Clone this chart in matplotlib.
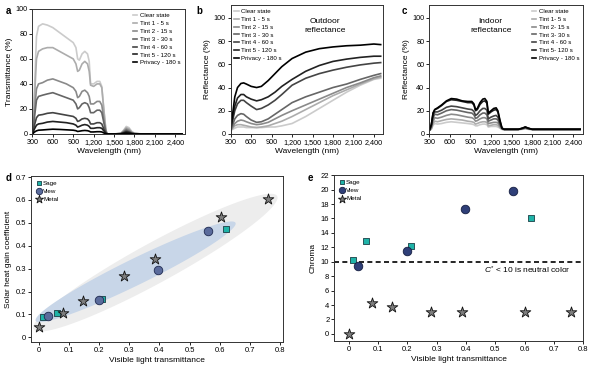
import numpy as np
import matplotlib
matplotlib.use('Agg')
import matplotlib.pyplot as plt

plt.rcParams['font.family'] = ['Liberation Sans', 'DejaVu Sans']
plt.rcParams['font.size'] = 6
plt.rcParams['axes.linewidth'] = 0.7
plt.rcParams['axes.edgecolor'] = '#333333'
plt.rcParams['mathtext.fontset'] = 'custom'
plt.rcParams['mathtext.it'] = 'Liberation Sans:italic'
plt.rcParams['mathtext.rm'] = 'Liberation Sans'

# ---- data ----
labels_ab = ['Clear state', 'Tint 1 - 5 s', 'Tint 2 - 15 s', 'Tint 3 - 30 s',
             'Tint 4 - 60 s', 'Tint 5 - 120 s', 'Privacy - 180 s']
labels_c = ['Clear state', 'Tint 1- 5 s', 'Tint 2- 15 s', 'Tint 3- 30 s',
            'Tint 4 - 60 s', 'Tint 5- 120 s', 'Privacy - 180 s']
grays = ['#cbcbcb', '#acacac', '#8a8a8a', '#666666', '#444444', '#222222', '#000000']

# a - transmittance
wl_a = [300, 330, 360, 390, 450, 520, 600, 700, 800, 900, 940, 965, 990, 1030, 1070, 1110,
        1135, 1155, 1200, 1250, 1290, 1320, 1350, 1380, 1400, 1500, 1600, 1640, 1680, 1720,
        1760, 1800, 1900, 2100, 2300, 2500]
tr_clear = [0, 35, 78, 86, 88, 87, 85, 81, 77, 73, 69, 60, 59, 64, 66, 64, 58, 40, 40, 42, 42, 38,
            20, 3, 0, 0, 0.5, 3, 6, 5, 2, 0.5, 0, 0, 0, 0]
tr_t1 = [0, 28, 60, 66, 68, 69, 69, 66, 63, 60, 56, 50, 51, 56, 58, 56, 50, 39, 38, 40, 40, 37,
         19, 3, 0, 0, 0.5, 2.5, 5, 4, 1.5, 0.5, 0, 0, 0, 0]
tr_t2 = [0, 18, 36, 40, 41, 43, 44, 42, 40, 37, 34, 29, 30, 34, 35, 33, 30, 24, 24, 26, 26, 23,
         12, 2, 0, 0, 0.3, 2, 4, 3, 1, 0.3, 0, 0, 0, 0]
tr_t3 = [0, 13, 27, 30, 31, 32, 33, 31, 29, 27, 24, 20, 21, 24, 25, 24, 21, 17, 17, 19, 19, 17,
         9, 1.5, 0, 0, 0.2, 1.5, 3, 2, 0.8, 0.2, 0, 0, 0, 0]
tr_t4 = [0, 7, 13, 15, 15.5, 16.5, 17, 16, 15, 14, 12.5, 10, 10.5, 12, 12.5, 12, 10.5, 8, 8, 9, 9,
         8, 4, 1, 0, 0, 0.2, 1, 2, 1.5, 0.5, 0.1, 0, 0, 0, 0]
tr_t5 = [0, 4, 7, 8, 8.5, 9.5, 10, 9.5, 9, 8, 7, 5.5, 6, 7, 7.5, 7, 6, 4.5, 4.5, 5, 5, 4.5, 2.5,
         0.5, 0, 0, 0.1, 0.7, 1.5, 1, 0.3, 0, 0, 0, 0, 0]
tr_priv = [0, 1.5, 2.5, 3, 3.2, 3.5, 3.8, 3.6, 3.3, 3, 2.6, 2, 2.2, 2.6, 2.8, 2.6, 2.2, 1.6, 1.6,
           1.8, 1.8, 1.6, 0.8, 0.2, 0, 0, 0, 0.3, 0.6, 0.4, 0.1, 0, 0, 0, 0, 0]

# b - outdoor reflectance
wl_b = [300, 330, 360, 400, 450, 490, 530, 600, 680, 750, 850, 950, 1050, 1200, 1400, 1600,
        1800, 2000, 2200, 2400, 2500]
ro_clear = [3, 4, 5, 6, 6, 6, 5.5, 5.5, 5.5, 5.5, 6, 6, 7, 9, 15, 22, 29, 36, 42, 47, 48]
ro_t1 = [3, 5, 7, 8, 8, 7.5, 7, 6, 5.5, 6, 7, 9, 11, 15, 21, 27, 33, 38, 43, 47.5, 49]
ro_t2 = [3, 6, 9, 11, 12, 11.5, 10.5, 9, 8, 8.5, 10, 13, 16, 20, 25, 30, 35, 40, 44, 48.5, 50]
ro_t3 = [3, 8, 13, 16, 17.5, 17, 15, 12, 10, 10.5, 13, 17, 21, 27, 32, 36, 40, 43, 47, 50.5, 52]
ro_t4 = [4, 12, 20, 26, 29, 29, 27, 24, 21, 22, 25, 29, 34, 42, 48, 52, 55, 57.5, 59.5, 61, 61.5]
ro_t5 = [4, 14, 24, 31, 34, 34, 32, 30, 28.5, 29.5, 32, 36, 41, 47, 54, 59, 62.5, 64.5, 66, 67, 67]
ro_priv = [5, 18, 32, 40, 43.5, 44, 43, 41, 40, 41, 46, 52, 58, 65, 70.5, 73.5, 75, 76, 76.5,
           77.5, 77]

# c - indoor reflectance
wl_c = [300, 330, 355, 380, 420, 480, 550, 620, 700, 780, 860, 920, 950, 975, 1000, 1040, 1080,
        1110, 1140, 1160, 1200, 1240, 1275, 1300, 1330, 1360, 1390, 1450, 1600, 1660, 1700,
        1740, 1800, 2000, 2200, 2500]
ri_priv = [3, 8, 18, 21, 22.5, 25, 28.5, 30.5, 30, 28.5, 28, 28, 26, 21, 22, 27, 30, 30.5, 28, 18,
           20, 22, 22.5, 20, 12, 5, 4, 4, 4, 5, 6, 5, 4, 4, 4, 4]
ri_t5 = [3, 8, 18, 21, 22, 24.5, 28, 29.5, 29, 28, 27, 27, 25, 20, 21, 25.5, 28, 28.5, 26.5, 17,
         19, 20.5, 21, 19, 11, 5, 4, 4, 4, 5, 6, 5, 4, 4, 4, 4]
ri_t4 = [3, 7, 16, 19, 19, 20.5, 23, 24, 23.5, 22.5, 21.5, 21, 19.5, 16, 17, 20, 22, 22, 20.5,
         13, 14.5, 15.5, 16, 14.5, 9, 5, 4, 4, 4, 4.8, 5.5, 4.8, 4, 4, 4, 4]
ri_t3 = [3, 6, 14, 17, 16.5, 18, 20, 21, 20.5, 19.5, 18.5, 18, 16.5, 13.5, 14, 16.5, 18, 18, 16.5,
         11, 12, 13, 13, 12, 8, 4.5, 4, 4, 4, 4.6, 5.2, 4.6, 4, 4, 4, 4]
ri_t2 = [3, 5, 11, 14, 13.5, 14.5, 16, 17, 16.5, 15.5, 14.5, 14, 13, 11, 11.5, 13, 14, 14, 13, 9,
         9.5, 10, 10, 9.5, 6.5, 4.5, 4, 4, 4, 4.5, 5, 4.5, 4, 4, 4, 4]
ri_t1 = [3, 4.5, 9, 11, 10.5, 11.5, 12.5, 13, 12.5, 12, 11, 10.5, 10, 8.5, 9, 10, 10.5, 10.5, 10,
         7, 7.5, 8, 8, 7.5, 5.5, 4, 3.8, 3.8, 3.8, 4.3, 4.8, 4.3, 3.8, 3.8, 3.8, 3.8]
ri_clear = [3, 4, 7.5, 9, 8.5, 9, 10, 10.5, 10, 9.5, 9, 8.5, 8, 7, 7, 8, 8.5, 8.5, 8, 6, 6.5, 6.5,
            6.5, 6, 5, 4, 3.6, 3.6, 3.6, 4, 4.5, 4, 3.6, 3.6, 3.6, 3.6]

# d, e - glazing products
vlt_sage = [0.015, 0.059, 0.211, 0.621]
vlt_view = [0.031, 0.200, 0.396, 0.561]
vlt_metal = [0.0, 0.079, 0.146, 0.282, 0.385, 0.603, 0.759]
shgc_sage = [0.090, 0.106, 0.167, 0.474]
shgc_view = [0.094, 0.164, 0.294, 0.464]
shgc_metal = [0.046, 0.106, 0.159, 0.267, 0.341, 0.526, 0.603]
chroma_sage = [10.2, 12.85, 12.2, 16.0]
chroma_view = [9.35, 11.45, 17.3, 19.85]
chroma_metal = [0.0, 4.3, 3.7, 3.1, 3.1, 3.0, 3.0]

wl_ticks = [300, 600, 900, 1200, 1500, 1800, 2100, 2400]
wl_ticklabels = ['300', '600', '900', '1,200', '1,500', '1,800', '2,100', '2,400']
vlt_ticklabels = ['0', '0.1', '0.2', '0.3', '0.4', '0.5', '0.6', '0.7', '0.8']

fig = plt.figure(figsize=(6, 3.68), dpi=100)


def spectra_axes(rect, ylim, ylabel):
    ax = fig.add_axes(rect)
    ax.set_xlim(300, 2540)
    ax.set_ylim(*ylim)
    ax.set_xticks(wl_ticks)
    ax.set_xticklabels(wl_ticklabels)
    ax.set_yticks([0, 20, 40, 60, 80, 100])
    ax.tick_params(direction='out', length=2, width=0.6, labelsize=5.2, pad=1.5)
    ax.set_xlabel('Wavelength (nm)', fontsize=6, labelpad=1.5)
    ax.set_ylabel(ylabel, fontsize=6, labelpad=2)
    return ax


# a
ax_a = spectra_axes([0.054, 0.636, 0.254, 0.340], (0, 100), 'Transmittance (%)')
for y, c, lab in zip([tr_clear, tr_t1, tr_t2, tr_t3, tr_t4, tr_t5, tr_priv], grays, labels_ab):
    ax_a.plot(wl_a, y, color=c, lw=1.2, label=lab)
ax_a.legend(loc='upper right', fontsize=4.4, frameon=False, handlelength=0.7,
            handletextpad=0.4, labelspacing=0.42, borderaxespad=0.3)

# b
ax_b = spectra_axes([0.3845, 0.636, 0.2545, 0.350], (0, 111), 'Reflectance (%)')
for y, c, lab in zip([ro_clear, ro_t1, ro_t2, ro_t3, ro_t4, ro_t5, ro_priv], grays, labels_ab):
    ax_b.plot(wl_b, y, color=c, lw=1.2, label=lab)
ax_b.legend(loc='upper left', fontsize=4.4, frameon=False, handlelength=0.7,
            handletextpad=0.4, labelspacing=0.42, borderaxespad=0.2)
ax_b.text(0.62, 0.84, 'Outdoor\nreflectance', transform=ax_b.transAxes, ha='center',
          va='center', fontsize=6, linespacing=1.3)

# c
ax_c = spectra_axes([0.7155, 0.636, 0.256, 0.350], (0, 111), 'Reflectance (%)')
for y, c, lab in zip([ri_clear, ri_t1, ri_t2, ri_t3, ri_t4, ri_t5, ri_priv], grays, labels_c):
    ax_c.plot(wl_c, y, color=c, lw=1.2, label=lab)
ax_c.legend(loc='upper right', fontsize=4.4, frameon=False, handlelength=0.7,
            handletextpad=0.4, labelspacing=0.42, borderaxespad=0.2)
ax_c.text(0.40, 0.84, 'Indoor\nreflectance', transform=ax_c.transAxes, ha='center',
          va='center', fontsize=6, linespacing=1.3)

sage_c = '#1fb3a8'
view_c = '#2f3f78'
metal_c = '#7d7d7d'
leg_kw = dict(loc='upper left', fontsize=4.5, frameon=False, handletextpad=0.2,
              labelspacing=0.45, borderaxespad=0.4, borderpad=0.3, markerscale=0.75,
              scatterpoints=1, handlelength=1.0)

# d
ax_d = fig.add_axes([0.052, 0.071, 0.420, 0.451])
ax_d.set_xlim(-0.025, 0.81)
ax_d.set_ylim(-0.02, 0.705)
ax_d.set_xticks(np.arange(0, 0.81, 0.1))
ax_d.set_xticklabels(vlt_ticklabels)
ax_d.set_yticks(np.arange(0, 0.71, 0.1))
ax_d.set_yticklabels(vlt_ticklabels[:8])
ax_d.tick_params(direction='out', length=2, width=0.6, labelsize=5.5, pad=1.5)
ax_d.set_xlabel('Visible light transmittance', fontsize=6, labelpad=2)
ax_d.set_ylabel('Solar heat gain coefficient', fontsize=6, labelpad=3)


def band(ax, p0, p1, half_px, color):
    # ellipse between two tips, width given in pixels across the long axis
    a = ax.transData.transform(p0)
    b = ax.transData.transform(p1)
    ctr = (a + b) / 2
    u = (b - a) / 2
    n = np.array([-u[1], u[0]]) / np.hypot(*u) * half_px
    t = np.linspace(0, 2 * np.pi, 200)
    pts = ctr + np.outer(np.cos(t), u) + np.outer(np.sin(t), n)
    pts = ax.transData.inverted().transform(pts)
    ax.fill(pts[:, 0], pts[:, 1], color=color, lw=0, zorder=0)


band(ax_d, (-0.017, 0.035), (0.790, 0.617), 20, '#ededed')
band(ax_d, (-0.010, 0.072), (0.652, 0.500), 13, '#c8d6e8')

ax_d.scatter(vlt_sage, shgc_sage, marker='s', s=22, color=sage_c, edgecolor='#1a3f45',
             lw=0.6, label='Sage', zorder=3)
ax_d.scatter(vlt_view, shgc_view, marker='o', s=38, color='#5a6b9c', edgecolor='#1f2a50',
             lw=0.6, label='View', zorder=3)
ax_d.scatter(vlt_metal, shgc_metal, marker='*', s=65, color=metal_c, edgecolor='#111111',
             lw=0.6, label='Metal', zorder=3)
ax_d.legend(**leg_kw)

# e
ax_e = fig.add_axes([0.557, 0.073, 0.415, 0.451])
ax_e.set_xlim(-0.05, 0.8)
ax_e.set_ylim(-1, 22)
ax_e.set_xticks(np.arange(0, 0.81, 0.1))
ax_e.set_xticklabels(vlt_ticklabels)
ax_e.set_yticks(np.arange(0, 23, 2))
ax_e.tick_params(direction='out', length=2, width=0.6, labelsize=5.5, pad=1.5)
ax_e.set_xlabel('Visible light transmittance', fontsize=6, labelpad=2)
ax_e.set_ylabel('Chroma', fontsize=6, labelpad=3)
ax_e.axhline(10, color='black', ls=(0, (3, 2)), lw=1.2, zorder=1)
ax_e.text(0.46, 8.8, r'$C^{*}$ < 10 is neutral color', fontsize=6, va='center', ha='left')

ax_e.scatter(vlt_sage, chroma_sage, marker='s', s=22, color=sage_c, edgecolor='#1a3f45',
             lw=0.6, label='Sage', zorder=3)
ax_e.scatter(vlt_view, chroma_view, marker='o', s=38, color=view_c, edgecolor='#151d40',
             lw=0.6, label='View', zorder=3)
ax_e.scatter(vlt_metal, chroma_metal, marker='*', s=65, color=metal_c, edgecolor='#111111',
             lw=0.6, label='Metal', zorder=3)
ax_e.legend(**leg_kw)

# panel letters
for x, y, s in [(0.010, 0.985, 'a'), (0.328, 0.985, 'b'), (0.670, 0.985, 'c'),
                (0.010, 0.530, 'd'), (0.512, 0.530, 'e')]:
    fig.text(x, y, s, fontsize=7, fontweight='bold', va='top', ha='left')

fig.savefig('out.png', dpi=100)
